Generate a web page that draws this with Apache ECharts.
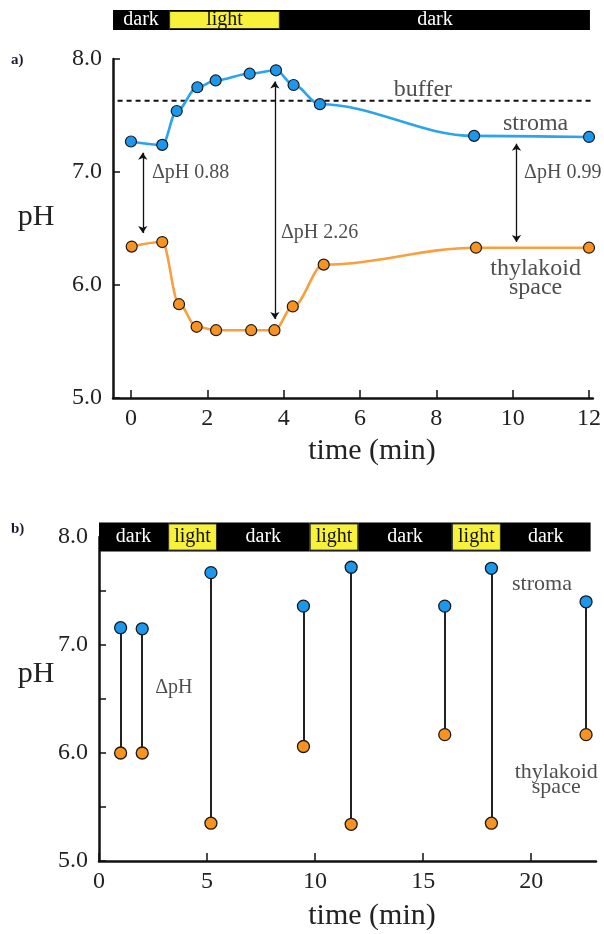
<!DOCTYPE html>
<html><head><meta charset="utf-8">
<script src="https://cdn.jsdelivr.net/npm/echarts@6/dist/echarts.min.js"></script>
<style>html,body{margin:0;padding:0;background:#fff}#c{width:604px;height:934px}</style>
</head><body><div id="c"></div>
<script>
// ---------- Panel a data ----------
const aStromaTime = [0, 0.82, 1.2, 1.74, 2.22, 3.11, 3.80, 4.26, 4.95, 8.99, 12.0];
const aStroma     = [7.27, 7.24, 7.54, 7.75, 7.81, 7.87, 7.90, 7.77, 7.60, 7.32, 7.31];
const aThylTime   = [0.02, 0.82, 1.26, 1.72, 2.23, 3.15, 3.76, 4.24, 5.05, 9.04, 12.0];
const aThyl       = [6.34, 6.38, 5.83, 5.63, 5.60, 5.60, 5.60, 5.81, 6.18, 6.33, 6.33];
const aBufferPH   = 7.63;
const aBufferTime = [-0.35, 12.1];
const aArrowTime   = [0.31, 3.77, 10.1];
const aArrowTop    = [7.17, 7.80, 7.25];
const aArrowBottom = [6.46, 5.70, 6.38];
const aPhaseStart = [-0.47, 1.0, 3.9];
const aPhaseEnd   = [1.0, 3.9, 12.02];
const aPhaseName  = ['dark', 'light', 'dark'];
const aXTicks = [0, 2, 4, 6, 8, 10, 12];
const aYTicks = [5, 6, 7, 8];
const aNoteText  = ['buffer', 'stroma', 'thylakoid', 'space', 'ΔpH 0.88', 'ΔpH 2.26', 'ΔpH 0.99'];
const aNoteTime  = [7.65, 10.6, 10.6, 10.6, 0.55, 3.93, 10.3];
const aNotePH    = [7.73, 7.43, 6.14, 5.98, 6.99, 6.46, 6.99];
const aNoteAlign = ['center', 'center', 'center', 'center', 'left', 'left', 'left'];

// ---------- Panel b data ----------
const bTime   = [1.0, 2.0, 5.18, 9.46, 11.67, 16.0, 18.16, 22.54];
const bStroma = [7.16, 7.15, 7.67, 7.36, 7.72, 7.36, 7.71, 7.40];
const bThyl   = [6.00, 6.00, 5.35, 6.06, 5.34, 6.17, 5.35, 6.17];
const bPhaseStart = [0, 3.2, 5.46, 9.75, 12.0, 16.33, 18.6];
const bPhaseEnd   = [3.2, 5.46, 9.75, 12.0, 16.33, 18.6, 22.75];
const bPhaseName  = ['dark', 'light', 'dark', 'light', 'dark', 'light', 'dark'];
const bXTicks  = [0, 5, 10, 15, 20];
const bYTicks  = [5, 5.5, 6, 6.5, 7, 7.5, 8];
const bYLabels = [5, 6, 7, 8];
const bNoteText  = ['stroma', 'ΔpH', 'thylakoid', 'space'];
const bNoteTime  = [20.5, 2.6, 21.16, 21.16];
const bNotePH    = [7.56, 6.60, 5.82, 5.68];
const bNoteAlign = ['center', 'left', 'center', 'center'];

// ---------- styles ----------
const FONT = '"Liberation Serif", "Times New Roman", serif';
const BLUE = '#1b98ee', ORANGE = '#f7931e', EDGE = '#1a1a1a';
const zip = (a, b) => a.map((v, i) => [v, b[i]]);

function axisX(gridIndex, min, max, ticks, show) {
  return {
    type: 'value', gridIndex, min, max, show,
    axisLine: { show: true, onZero: false, lineStyle: { color: '#111', width: 2.5 } },
    axisTick: { show: true, inside: true, length: 8, customValues: ticks, lineStyle: { color: '#111', width: 1.5 } },
    axisLabel: { show: true, customValues: ticks, margin: 9, color: '#222', fontFamily: FONT, fontSize: 24 },
    splitLine: { show: false }
  };
}
function axisY(gridIndex, min, max, ticks, labels, show) {
  return {
    type: 'value', gridIndex, min, max, show,
    axisLine: { show: true, onZero: false, lineStyle: { color: '#111', width: 2.5 } },
    axisTick: { show: true, inside: true, length: 7, customValues: ticks, lineStyle: { color: '#111', width: 1.5 } },
    axisLabel: { show: true, customValues: labels, margin: 11, color: '#222', fontFamily: FONT, fontSize: 24,
      formatter: v => Number(v).toFixed(1) },
    splitLine: { show: false }
  };
}
function phaseRender(yTop, yBottom) {
  return function (params, api) {
    const s = api.value(0), e = api.value(1);
    const p0 = api.coord([s, yTop]), p1 = api.coord([e, yBottom]);
    const light = api.value(3) === 1;
    const rect = { x: p0[0], y: p0[1], width: p1[0] - p0[0], height: p1[1] - p0[1] };
    const children = [{ type: 'rect', shape: rect, style: { fill: '#000' } }];
    if (light) {
      children.push({ type: 'rect', shape: { x: rect.x + 0.5, y: rect.y + 1.5, width: rect.width - 1, height: rect.height - 3 },
        style: { fill: '#f7f13a', stroke: '#333', lineWidth: 1 } });
    }
    children.push({ type: 'text', style: { text: light ? 'light' : 'dark', x: (p0[0] + p1[0]) / 2, y: (p0[1] + p1[1]) / 2,
      align: 'center', verticalAlign: 'middle', fill: light ? '#111' : '#fff', font: '20px ' + FONT } });
    return { type: 'group', children };
  };
}
function notes(xi, yi, t, ph, text, align, size, dsize) {
  return {
    type: 'scatter', xAxisIndex: xi, yAxisIndex: yi, symbolSize: 0, silent: true, z: 5,
    data: t.map((v, i) => ({ value: [v, ph[i]],
      label: { show: true, position: 'inside', formatter: text[i], align: align[i], verticalAlign: 'middle',
        color: '#222', fontFamily: FONT, fontSize: text[i].startsWith('Δ') ? dsize : size, lineHeight: size } }))
  };
}

const chart = echarts.init(document.getElementById('c'), null, { renderer: 'canvas' });
chart.setOption({
  animation: false,
  backgroundColor: '#fff',
  grid: [
    { left: 113, top: 59, width: 480, height: 339 },
    { left: 99, top: 537, width: 497, height: 324 },
    { left: 113, top: 10, width: 480, height: 20 }
  ],
  xAxis: [
    axisX(0, -0.47, 12.1, aXTicks, true),
    axisX(1, 0, 23, bXTicks, true),
    { type: 'value', gridIndex: 2, min: -0.47, max: 12.1, show: false }
  ],
  yAxis: [
    axisY(0, 5, 8, aYTicks, aYTicks, true),
    axisY(1, 5, 8, bYTicks, bYLabels, true),
    { type: 'value', gridIndex: 2, min: 0, max: 1, show: false }
  ],
  graphic: [
    { type: 'text', left: 11, top: 53, style: { text: 'a)', font: 'bold 15px ' + FONT, fill: '#1c1c30' } },
    { type: 'text', left: 11, top: 522, style: { text: 'b)', font: 'bold 15px ' + FONT, fill: '#1c1c30' } },
    { type: 'text', x: 36, y: 217, style: { text: 'pH', font: '30px ' + FONT, fill: '#222', align: 'center', verticalAlign: 'middle' } },
    { type: 'text', x: 36, y: 674, style: { text: 'pH', font: '30px ' + FONT, fill: '#222', align: 'center', verticalAlign: 'middle' } },
    { type: 'text', x: 372, y: 451, style: { text: 'time (min)', font: '30px ' + FONT, fill: '#222', align: 'center', verticalAlign: 'middle' } },
    { type: 'text', x: 372, y: 916, style: { text: 'time (min)', font: '30px ' + FONT, fill: '#222', align: 'center', verticalAlign: 'middle' } }
  ],
  series: [
    { type: 'custom', xAxisIndex: 2, yAxisIndex: 2, clip: false, silent: true,
      renderItem: phaseRender(1, 0),
      data: aPhaseStart.map((s, i) => [s, aPhaseEnd[i], i, aPhaseName[i] === 'light' ? 1 : 0]) },
    { type: 'line', xAxisIndex: 0, yAxisIndex: 0, symbol: 'none', silent: true,
      lineStyle: { color: '#111', width: 2, type: [5, 4] },
      data: aBufferTime.map(t => [t, aBufferPH]) },
    { type: 'lines', coordinateSystem: 'cartesian2d', xAxisIndex: 0, yAxisIndex: 0, silent: true, z: 3,
      symbol: ['arrow', 'arrow'], symbolSize: 7,
      lineStyle: { color: '#111', width: 1.3, opacity: 1 },
      data: aArrowTime.map((t, i) => ({ coords: [[t, aArrowTop[i]], [t, aArrowBottom[i]]] })) },
    { type: 'line', xAxisIndex: 0, yAxisIndex: 0, smooth: 0.35, smoothMonotone: 'x', z: 4,
      symbol: 'circle', symbolSize: 11,
      itemStyle: { color: BLUE, borderColor: EDGE, borderWidth: 1.2 },
      lineStyle: { color: '#2aa3f2', width: 2.6 },
      data: zip(aStromaTime, aStroma) },
    { type: 'line', xAxisIndex: 0, yAxisIndex: 0, smooth: 0.35, smoothMonotone: 'x', z: 4,
      symbol: 'circle', symbolSize: 11,
      itemStyle: { color: ORANGE, borderColor: EDGE, borderWidth: 1.2 },
      lineStyle: { color: '#f8a040', width: 2.6 },
      data: zip(aThylTime, aThyl) },
    notes(0, 0, aNoteTime, aNotePH, aNoteText, aNoteAlign, 24, 20),
    { type: 'custom', xAxisIndex: 1, yAxisIndex: 1, clip: false, silent: true, z: 6,
      renderItem: phaseRender(8.135, 7.865),
      data: bPhaseStart.map((s, i) => [s, bPhaseEnd[i], i, bPhaseName[i] === 'light' ? 1 : 0]) },
    { type: 'lines', coordinateSystem: 'cartesian2d', xAxisIndex: 1, yAxisIndex: 1, silent: true, z: 2,
      lineStyle: { color: '#222', width: 2, opacity: 1 },
      data: bTime.map((t, i) => ({ coords: [[t, bStroma[i]], [t, bThyl[i]]] })) },
    { type: 'scatter', xAxisIndex: 1, yAxisIndex: 1, symbol: 'circle', symbolSize: 12, z: 4,
      itemStyle: { color: BLUE, borderColor: EDGE, borderWidth: 1.3, opacity: 1 },
      data: zip(bTime, bStroma) },
    { type: 'scatter', xAxisIndex: 1, yAxisIndex: 1, symbol: 'circle', symbolSize: 12, z: 4,
      itemStyle: { color: ORANGE, borderColor: EDGE, borderWidth: 1.3, opacity: 1 },
      data: zip(bTime, bThyl) },
    notes(1, 1, bNoteTime, bNotePH, bNoteText, bNoteAlign, 22, 20)
  ]
});
</script></body></html>
